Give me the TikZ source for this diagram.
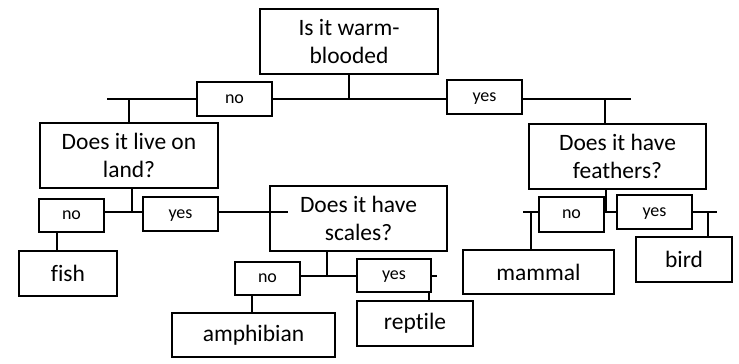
\documentclass[tikz,border=0pt]{standalone}
\usepackage{fontspec}
\setmainfont{Carlito}[Ligatures={NoCommon}]
\begin{document}
\begin{tikzpicture}[x=1bp,y=-1bp,
  box/.style={draw=black,line width=2.6bp,inner sep=0pt,align=center,
    font=\fontsize{23.5bp}{28bp}\selectfont},
  lab/.style={draw=black,line width=2.6bp,inner sep=0pt,align=center,
    text height=0.92em,text depth=0.05em,
    font=\fontsize{18bp}{20bp}\selectfont},
  ln/.style={draw=black,line width=1.1bp}]
\useasboundingbox (0,0) rectangle (739,363);
% question boxes
\node[box,minimum width=178bp,minimum height=65bp] (top) at (349,41.5) {Is it warm-\\blooded};
\node[box,minimum width=178bp,minimum height=65bp] (land) at (129,155.5) {Does it live on\\land?};
\node[box,minimum width=177bp,minimum height=65bp] (feath) at (617.5,156.5) {Does it have\\feathers?};
\node[box,minimum width=177bp,minimum height=65bp] (scales) at (358.5,218.5) {Does it have\\scales?};
% leaves
\node[box,minimum width=98bp,minimum height=45bp] (fish) at (68,273.5) {fish};
\node[box,minimum width=163bp,minimum height=44bp] (amph) at (253.5,335) {amphibian};
\node[box,minimum width=116bp,minimum height=45bp] (rept) at (415,323.5) {reptile};
\node[box,minimum width=151bp,minimum height=44bp] (mamm) at (538.5,272) {mammal};
\node[box,minimum width=96bp,minimum height=45bp] (bird) at (684,259.5) {bird};
% yes/no labels
\node[lab,minimum width=75bp,minimum height=34bp] (no1) at (234.5,99) {no};
\node[lab,minimum width=75bp,minimum height=34bp] (yes1) at (484.5,97) {yes};
\node[lab,minimum width=65bp,minimum height=33bp] (no2) at (71.5,215.5) {no};
\node[lab,minimum width=75bp,minimum height=34bp] (yes2) at (180.5,214) {yes};
\node[lab,minimum width=65bp,minimum height=33bp] (no3) at (267.5,278.5) {no};
\node[lab,minimum width=74bp,minimum height=33bp] (yes3) at (394,275.5) {yes};
\node[lab,minimum width=65bp,minimum height=35bp] (no4) at (571.5,214.5) {no};
\node[lab,minimum width=75bp,minimum height=34bp] (yes4) at (654.5,212) {yes};
% junction coordinates
\coordinate (hl) at (107,99);
\coordinate (hr) at (631,99);
\coordinate (fs) at (605,99);
\coordinate (j2) at (132,212);
\coordinate (e2) at (288,212);
\coordinate (s2) at (57,232);
\coordinate (j3) at (327,276);
\coordinate (t3) at (437,276);
\coordinate (r3) at (429,292);
\coordinate (a3) at (252,295);
\coordinate (j4) at (606,212);
\coordinate (l4) at (523,212);
\coordinate (t4) at (717,212);
\coordinate (m4) at (531,212);
\coordinate (b4) at (708,212);
% level 1
\draw[ln] (top.south) -- (top.south |- hl);
\draw[ln] (hl) -- (hl -| no1.west);
\draw[ln] (no1.east) -- (no1.east -| yes1.west);
\draw[ln] (yes1.east |- hr) -- (hr);
\draw[ln] (land.north |- hl) -- (land.north);
\draw[ln] (fs) -- (fs |- feath.north);
% land branch
\draw[ln] (j2 |- land.south) -- (j2);
\draw[ln] (no2.east |- j2) -- (yes2.west |- j2);
\draw[ln] (yes2.east |- j2) -- (e2);
\draw[ln] (s2 |- no2.south) -- (s2 |- fish.north);
% scales branch
\draw[ln] (j3 |- scales.south) -- (j3);
\draw[ln] (no3.east |- j3) -- (yes3.west |- j3);
\draw[ln] (yes3.east |- t3) -- (t3);
\draw[ln] (r3 |- yes3.south) -- (r3 |- rept.north);
\draw[ln] (a3 |- no3.south) -- (a3 |- amph.north);
% feathers branch
\draw[ln] (j4 |- feath.south) -- (j4);
\draw[ln] (l4) -- (l4 -| no4.west);
\draw[ln] (no4.east |- j4) -- (yes4.west |- j4);
\draw[ln] (yes4.east |- t4) -- (t4);
\draw[ln] (m4) -- (m4 |- mamm.north);
\draw[ln] (b4) -- (b4 |- bird.north);
\end{tikzpicture}
\end{document}
